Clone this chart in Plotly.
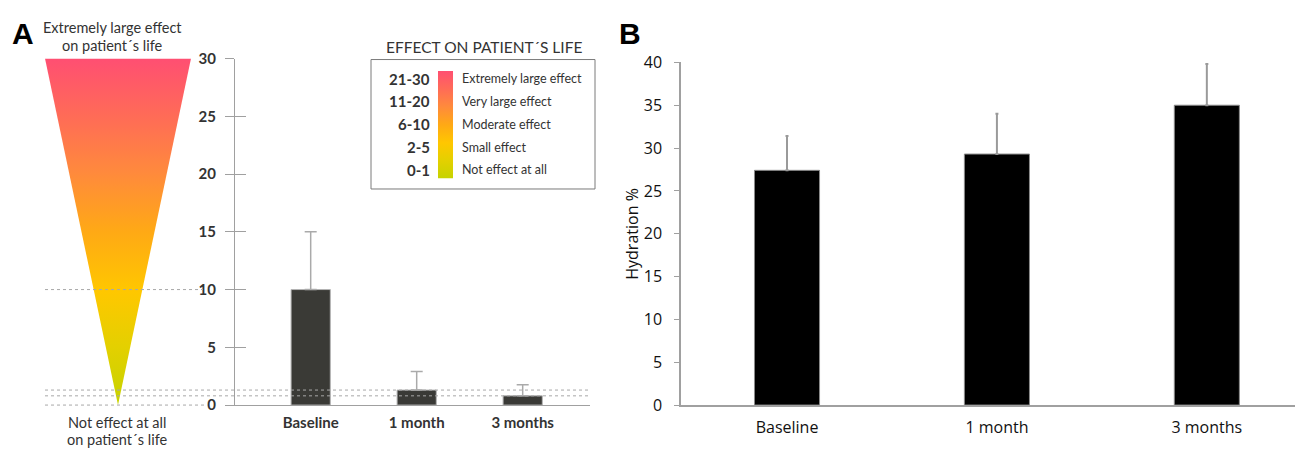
import plotly.graph_objects as go

# ---------------- data ----------------
categories = ["Baseline", "1 month", "3 months"]
effect_mean = [10.0, 1.3, 0.8]
effect_err = [5.0, 1.6, 0.95]
hydration_mean = [27.4, 29.3, 35.0]
hydration_err = [4.0, 4.7, 4.8]
effect_ticks = [0, 5, 10, 15, 20, 25, 30]
hydration_ticks = [0, 5, 10, 15, 20, 25, 30, 35, 40]
legend_ranges = ["21-30", "11-20", "6-10", "2-5", "0-1"]
legend_labels = ["Extremely large effect", "Very large effect", "Moderate effect",
                 "Small effect", "Not effect at all"]
effect_max = 30
hydration_max = 40

# ---------------- helpers ----------------
W, H = 1295, 457
def px(x):
    return x / W
def py(y):
    return 1 - y / H

grad = [[0.0, "#c6d300"], [0.17, "#e4d000"], [0.33, "#ffc700"], [0.5, "#ffa915"],
        [0.67, "#ff8a3c"], [0.84, "#ff6a58"], [1.0, "#ff4f72"]]

FA = "Lato, 'Open Sans', sans-serif"
FB = "'Open Sans', 'Noto Sans', sans-serif"
DARK = "#333333"
AXC = "#a0a0a0"

A_dom_x = [px(235), px(590)]
A_range_x = [-0.714, 2.635]
A_bar_w = 0.37
A_dom_y = [py(414), py(50)]
B_dom_x = [px(681), 1.0]
B_range_x = [-0.505, 2.42]
B_bar_w = 0.31
B_dom_y = [py(414), py(54)]

fig = go.Figure()

# gradient triangle drawn on panel A's value scale
fig.add_trace(go.Scatter(
    x=[-1, 1, 0, -1], y=[effect_max, effect_max, 0, effect_max],
    fill="toself", mode="lines", line=dict(width=0),
    fillgradient=dict(type="vertical", colorscale=grad),
    xaxis="x3", yaxis="y", hoverinfo="skip"))

# panel A bars
fig.add_trace(go.Bar(
    x=categories, y=effect_mean, width=A_bar_w,
    marker=dict(color="#3a3a36", line=dict(color="#b5b5b5", width=1)),
    error_y=dict(type="data", symmetric=False, array=effect_err,
                 arrayminus=[0] * len(effect_err), color="#aaaaaa",
                 thickness=1.5, width=6),
    xaxis="x", yaxis="y", hoverinfo="skip"))

# empty trace so the overlay axis (inside half of the cross ticks) is drawn
fig.add_trace(go.Scatter(x=[], y=[], xaxis="x", yaxis="y5", hoverinfo="skip"))

# panel B bars
fig.add_trace(go.Bar(
    x=categories, y=hydration_mean, width=B_bar_w,
    marker=dict(color="#000000", line=dict(color="#8a8a8a", width=1)),
    error_y=dict(type="data", symmetric=False, array=hydration_err,
                 arrayminus=[0] * len(hydration_err), color="#9a9a9a",
                 thickness=2, width=1.5),
    xaxis="x2", yaxis="y2", hoverinfo="skip"))

# legend colour bar
fig.add_trace(go.Scatter(
    x=[0, 1, 1, 0, 0], y=[0, 0, effect_max, effect_max, 0],
    fill="toself", mode="lines", line=dict(width=0),
    fillgradient=dict(type="vertical", colorscale=grad),
    xaxis="x4", yaxis="y4", hoverinfo="skip"))

# ---------------- shapes ----------------
shapes = []
dot = dict(color="#a8a8a8", width=1, dash="dot")
shapes.append(dict(type="line", xref="paper", yref="y", x0=px(45), x1=px(203),
                   y0=effect_mean[0], y1=effect_mean[0], line=dot))
for v in effect_mean[1:]:
    shapes.append(dict(type="line", xref="paper", yref="y", x0=px(45), x1=px(590),
                       y0=v, y1=v, line=dot))
shapes.append(dict(type="line", xref="paper", yref="paper", x0=px(45), x1=px(208),
                   y0=A_dom_y[0], y1=A_dom_y[0], line=dot))
shapes.append(dict(type="rect", xref="paper", yref="paper", x0=px(371), x1=px(595),
                   y0=py(187), y1=py(51), line=dict(color="#7a7a7a", width=1),
                   fillcolor="rgba(255,255,255,0)", layer="below"))

# ---------------- annotations ----------------
ann = []
def txt(x, y, s, size, color=DARK, family=FA, weight=None, xanchor="center", angle=0):
    f = dict(size=size, color=color, family=family)
    if weight:
        f["weight"] = weight
    ann.append(dict(x=px(x), y=py(y), xref="paper", yref="paper", text=s,
                    showarrow=False, xanchor=xanchor, yanchor="middle",
                    font=f, textangle=angle))

txt(23, 24, "A", 30, color="#000", family="'Liberation Sans', Arial, sans-serif", weight="bold")
txt(630, 24, "B", 30, color="#000", family="'Liberation Sans', Arial, sans-serif", weight="bold")
txt(112, 17, "Extremely large effect", 14.5)
txt(112, 36, "on patient´s life", 14.5)
txt(117, 432, "Not effect at all", 14.5)
txt(117, 450, "on patient´s life", 14.5)
txt(484, 38, "EFFECT ON PATIENT´S LIFE", 15.5)
row_y = [71, 95, 119, 143, 167]
for yy, r, lab in zip(row_y, legend_ranges, legend_labels):
    txt(432, yy, r, 15, weight="bold", xanchor="right")
    txt(460, yy, lab, 12.5, xanchor="left")
txt(632, 234, "Hydration %", 16, color="#111", family=FB, angle=-90)

# ---------------- layout ----------------
fig.update_layout(
    width=W, height=H, margin=dict(l=0, r=0, t=0, b=0),
    paper_bgcolor="white", plot_bgcolor="rgba(0,0,0,0)", showlegend=False,
    shapes=shapes, annotations=ann,
    xaxis=dict(domain=A_dom_x, range=A_range_x, anchor="y", showline=True,
               linecolor=AXC, linewidth=1, ticks="", showgrid=False, zeroline=False,
               tickfont=dict(family=FA, size=15, color=DARK, weight="bold"),
               ticklabelstandoff=4, fixedrange=True),
    yaxis=dict(domain=A_dom_y, range=[0, effect_max], anchor="x", showline=True,
               linecolor=AXC, linewidth=1, ticks="outside", ticklen=9, tickcolor=AXC,
               tickvals=effect_ticks, showgrid=False, zeroline=False,
               tickfont=dict(family=FA, size=15, color=DARK, weight="bold"),
               ticklabelstandoff=6),
    yaxis5=dict(domain=A_dom_y, range=[0, effect_max], anchor="x", overlaying="y",
                ticks="inside", ticklen=11, tickcolor=AXC, tickvals=effect_ticks,
                showticklabels=False, showgrid=False, zeroline=False, showline=False),
    xaxis3=dict(domain=[px(45), px(191)], range=[-1, 1], anchor="y", visible=False),
    xaxis2=dict(domain=B_dom_x, range=B_range_x, anchor="y2", showline=True,
                linecolor=AXC, linewidth=1.5, ticks="", showgrid=False, zeroline=False,
                tickfont=dict(family=FB, size=16, color="#111"), ticklabelstandoff=7),
    yaxis2=dict(domain=B_dom_y, range=[0, hydration_max], anchor="x2", showline=True,
                linecolor=AXC, linewidth=1.5, ticks="outside", ticklen=5, tickcolor=AXC,
                tickvals=hydration_ticks, showgrid=False, zeroline=False,
                tickfont=dict(family=FB, size=16, color="#111"), ticklabelstandoff=9),
    xaxis4=dict(domain=[px(438), px(453)], range=[0, 1], anchor="y4", visible=False),
    yaxis4=dict(domain=[py(176), py(63)], range=[0, effect_max], anchor="x4", visible=False),
)

post = (
    "var gd=document.getElementById('{plot_id}');"
    "gd.style.position='fixed';gd.style.top='0px';gd.style.left='0px';"
    "var de=document.documentElement;de.style.margin='0';de.style.padding='0';"
    "de.style.overflow='hidden';"
    "var b=document.body;b.style.margin='0';b.style.padding='0';b.style.overflow='hidden';"
)

fig.write_html(
    "out.html",
    config={"displayModeBar": False, "responsive": False},
    post_script=post,
)
